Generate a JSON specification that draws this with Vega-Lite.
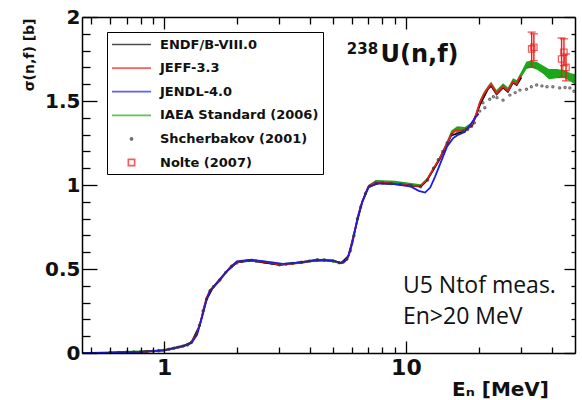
{
  "$schema": "https://vega.github.io/schema/vega-lite/v6.json",
  "width": 493,
  "height": 336,
  "autosize": "none",
  "padding": {"left": 82, "top": 17, "right": 7, "bottom": 47},
  "background": "white",
  "config": {"view": {"stroke": null}},
  "datasets": {
    "lines": [
      {"series": "JEFF-3.3", "E": 0.458, "s": 0.0}, {"series": "JEFF-3.3", "E": 0.58, "s": 0.001}, {"series": "JEFF-3.3", "E": 0.7, "s": 0.004}, {"series": "JEFF-3.3", "E": 0.8, "s": 0.007}, {"series": "JEFF-3.3", "E": 0.9, "s": 0.011}, {"series": "JEFF-3.3", "E": 1.0, "s": 0.016}, {"series": "JEFF-3.3", "E": 1.1, "s": 0.028}, {"series": "JEFF-3.3", "E": 1.2, "s": 0.042}, {"series": "JEFF-3.3", "E": 1.27, "s": 0.052}, {"series": "JEFF-3.3", "E": 1.32, "s": 0.08}, {"series": "JEFF-3.3", "E": 1.37, "s": 0.12}, {"series": "JEFF-3.3", "E": 1.42, "s": 0.19}, {"series": "JEFF-3.3", "E": 1.46, "s": 0.27}, {"series": "JEFF-3.3", "E": 1.5, "s": 0.33}, {"series": "JEFF-3.3", "E": 1.55, "s": 0.375}, {"series": "JEFF-3.3", "E": 1.62, "s": 0.4}, {"series": "JEFF-3.3", "E": 1.7, "s": 0.43}, {"series": "JEFF-3.3", "E": 1.8, "s": 0.48}, {"series": "JEFF-3.3", "E": 1.9, "s": 0.52}, {"series": "JEFF-3.3", "E": 2.0, "s": 0.54}, {"series": "JEFF-3.3", "E": 2.2, "s": 0.55}, {"series": "JEFF-3.3", "E": 2.5, "s": 0.545}, {"series": "JEFF-3.3", "E": 2.8, "s": 0.535}, {"series": "JEFF-3.3", "E": 3.0, "s": 0.525}, {"series": "JEFF-3.3", "E": 3.3, "s": 0.53}, {"series": "JEFF-3.3", "E": 3.7, "s": 0.537}, {"series": "JEFF-3.3", "E": 4.1, "s": 0.55}, {"series": "JEFF-3.3", "E": 4.6, "s": 0.555}, {"series": "JEFF-3.3", "E": 5.0, "s": 0.55}, {"series": "JEFF-3.3", "E": 5.35, "s": 0.535}, {"series": "JEFF-3.3", "E": 5.6, "s": 0.545}, {"series": "JEFF-3.3", "E": 5.8, "s": 0.58}, {"series": "JEFF-3.3", "E": 6.0, "s": 0.66}, {"series": "JEFF-3.3", "E": 6.2, "s": 0.75}, {"series": "JEFF-3.3", "E": 6.4, "s": 0.84}, {"series": "JEFF-3.3", "E": 6.6, "s": 0.9}, {"series": "JEFF-3.3", "E": 6.8, "s": 0.95}, {"series": "JEFF-3.3", "E": 7.0, "s": 0.99}, {"series": "JEFF-3.3", "E": 7.3, "s": 1.01}, {"series": "JEFF-3.3", "E": 7.8, "s": 1.015}, {"series": "JEFF-3.3", "E": 8.5, "s": 1.01}, {"series": "JEFF-3.3", "E": 9.5, "s": 1.005}, {"series": "JEFF-3.3", "E": 10.5, "s": 0.995}, {"series": "JEFF-3.3", "E": 11.5, "s": 0.995}, {"series": "JEFF-3.3", "E": 12.2, "s": 1.03}, {"series": "JEFF-3.3", "E": 12.9, "s": 1.09}, {"series": "JEFF-3.3", "E": 13.8, "s": 1.16}, {"series": "JEFF-3.3", "E": 14.7, "s": 1.24}, {"series": "JEFF-3.3", "E": 15.4, "s": 1.3}, {"series": "JEFF-3.3", "E": 16.0, "s": 1.325}, {"series": "JEFF-3.3", "E": 17.0, "s": 1.32}, {"series": "JEFF-3.3", "E": 18.0, "s": 1.335}, {"series": "JEFF-3.3", "E": 18.8, "s": 1.36}, {"series": "JEFF-3.3", "E": 19.5, "s": 1.42}, {"series": "JEFF-3.3", "E": 20.2, "s": 1.49}, {"series": "JEFF-3.3", "E": 21.0, "s": 1.54}, {"series": "JEFF-3.3", "E": 21.8, "s": 1.575}, {"series": "JEFF-3.3", "E": 22.5, "s": 1.6}, {"series": "JEFF-3.3", "E": 23.7, "s": 1.545}, {"series": "JEFF-3.3", "E": 25.2, "s": 1.585}, {"series": "JEFF-3.3", "E": 26.4, "s": 1.56}, {"series": "JEFF-3.3", "E": 27.7, "s": 1.615}, {"series": "JEFF-3.3", "E": 28.7, "s": 1.6}, {"series": "JEFF-3.3", "E": 29.6, "s": 1.645}, {"series": "JEFF-3.3", "E": 30.0, "s": 1.65},
      {"series": "ENDF/B-VIII.0", "E": 0.458, "s": 0.0}, {"series": "ENDF/B-VIII.0", "E": 0.58, "s": 0.001}, {"series": "ENDF/B-VIII.0", "E": 0.8, "s": 0.007}, {"series": "ENDF/B-VIII.0", "E": 1.0, "s": 0.017}, {"series": "ENDF/B-VIII.0", "E": 1.2, "s": 0.042}, {"series": "ENDF/B-VIII.0", "E": 1.3, "s": 0.065}, {"series": "ENDF/B-VIII.0", "E": 1.4, "s": 0.16}, {"series": "ENDF/B-VIII.0", "E": 1.5, "s": 0.32}, {"series": "ENDF/B-VIII.0", "E": 1.6, "s": 0.395}, {"series": "ENDF/B-VIII.0", "E": 1.8, "s": 0.48}, {"series": "ENDF/B-VIII.0", "E": 2.0, "s": 0.54}, {"series": "ENDF/B-VIII.0", "E": 2.3, "s": 0.55}, {"series": "ENDF/B-VIII.0", "E": 3.0, "s": 0.525}, {"series": "ENDF/B-VIII.0", "E": 4.1, "s": 0.55}, {"series": "ENDF/B-VIII.0", "E": 5.0, "s": 0.55}, {"series": "ENDF/B-VIII.0", "E": 5.4, "s": 0.535}, {"series": "ENDF/B-VIII.0", "E": 5.8, "s": 0.58}, {"series": "ENDF/B-VIII.0", "E": 6.2, "s": 0.75}, {"series": "ENDF/B-VIII.0", "E": 6.6, "s": 0.9}, {"series": "ENDF/B-VIII.0", "E": 7.0, "s": 0.99}, {"series": "ENDF/B-VIII.0", "E": 7.8, "s": 1.012}, {"series": "ENDF/B-VIII.0", "E": 9.5, "s": 1.003}, {"series": "ENDF/B-VIII.0", "E": 11.5, "s": 0.99}, {"series": "ENDF/B-VIII.0", "E": 12.2, "s": 1.025}, {"series": "ENDF/B-VIII.0", "E": 13.8, "s": 1.155}, {"series": "ENDF/B-VIII.0", "E": 15.4, "s": 1.295}, {"series": "ENDF/B-VIII.0", "E": 17.0, "s": 1.315}, {"series": "ENDF/B-VIII.0", "E": 18.8, "s": 1.355}, {"series": "ENDF/B-VIII.0", "E": 20.2, "s": 1.475}, {"series": "ENDF/B-VIII.0", "E": 21.8, "s": 1.57}, {"series": "ENDF/B-VIII.0", "E": 22.5, "s": 1.59}, {"series": "ENDF/B-VIII.0", "E": 23.7, "s": 1.54}, {"series": "ENDF/B-VIII.0", "E": 25.2, "s": 1.58}, {"series": "ENDF/B-VIII.0", "E": 26.4, "s": 1.555}, {"series": "ENDF/B-VIII.0", "E": 27.7, "s": 1.61}, {"series": "ENDF/B-VIII.0", "E": 28.7, "s": 1.595}, {"series": "ENDF/B-VIII.0", "E": 30.0, "s": 1.64},
      {"series": "JENDL-4.0", "E": 0.458, "s": 0.0}, {"series": "JENDL-4.0", "E": 0.58, "s": 0.001}, {"series": "JENDL-4.0", "E": 0.8, "s": 0.007}, {"series": "JENDL-4.0", "E": 1.0, "s": 0.016}, {"series": "JENDL-4.0", "E": 1.2, "s": 0.04}, {"series": "JENDL-4.0", "E": 1.3, "s": 0.06}, {"series": "JENDL-4.0", "E": 1.37, "s": 0.11}, {"series": "JENDL-4.0", "E": 1.44, "s": 0.22}, {"series": "JENDL-4.0", "E": 1.5, "s": 0.32}, {"series": "JENDL-4.0", "E": 1.55, "s": 0.37}, {"series": "JENDL-4.0", "E": 1.62, "s": 0.4}, {"series": "JENDL-4.0", "E": 1.8, "s": 0.48}, {"series": "JENDL-4.0", "E": 2.0, "s": 0.545}, {"series": "JENDL-4.0", "E": 2.3, "s": 0.555}, {"series": "JENDL-4.0", "E": 2.8, "s": 0.54}, {"series": "JENDL-4.0", "E": 3.1, "s": 0.53}, {"series": "JENDL-4.0", "E": 3.7, "s": 0.54}, {"series": "JENDL-4.0", "E": 4.3, "s": 0.555}, {"series": "JENDL-4.0", "E": 5.0, "s": 0.55}, {"series": "JENDL-4.0", "E": 5.4, "s": 0.535}, {"series": "JENDL-4.0", "E": 5.7, "s": 0.555}, {"series": "JENDL-4.0", "E": 6.0, "s": 0.65}, {"series": "JENDL-4.0", "E": 6.3, "s": 0.8}, {"series": "JENDL-4.0", "E": 6.6, "s": 0.9}, {"series": "JENDL-4.0", "E": 7.0, "s": 0.985}, {"series": "JENDL-4.0", "E": 7.6, "s": 1.01}, {"series": "JENDL-4.0", "E": 9.0, "s": 1.005}, {"series": "JENDL-4.0", "E": 10.5, "s": 0.99}, {"series": "JENDL-4.0", "E": 11.3, "s": 0.965}, {"series": "JENDL-4.0", "E": 12.0, "s": 0.955}, {"series": "JENDL-4.0", "E": 12.6, "s": 0.985}, {"series": "JENDL-4.0", "E": 13.2, "s": 1.05}, {"series": "JENDL-4.0", "E": 13.8, "s": 1.12}, {"series": "JENDL-4.0", "E": 14.8, "s": 1.23}, {"series": "JENDL-4.0", "E": 15.7, "s": 1.28}, {"series": "JENDL-4.0", "E": 16.5, "s": 1.3}, {"series": "JENDL-4.0", "E": 17.5, "s": 1.315}, {"series": "JENDL-4.0", "E": 18.5, "s": 1.36}, {"series": "JENDL-4.0", "E": 19.3, "s": 1.4}, {"series": "JENDL-4.0", "E": 20.0, "s": 1.425}
    ],
    "band": [
      {"series": "IAEA Standard (2006)", "E": 0.458, "lo": 0.0, "hi": 0.004}, {"series": "IAEA Standard (2006)", "E": 1.0, "lo": 0.012, "hi": 0.02}, {"series": "IAEA Standard (2006)", "E": 1.2, "lo": 0.038, "hi": 0.046}, {"series": "IAEA Standard (2006)", "E": 1.27, "lo": 0.048, "hi": 0.056}, {"series": "IAEA Standard (2006)", "E": 1.32, "lo": 0.075, "hi": 0.085}, {"series": "IAEA Standard (2006)", "E": 1.37, "lo": 0.115, "hi": 0.125}, {"series": "IAEA Standard (2006)", "E": 1.42, "lo": 0.185, "hi": 0.195}, {"series": "IAEA Standard (2006)", "E": 1.46, "lo": 0.265, "hi": 0.275}, {"series": "IAEA Standard (2006)", "E": 1.5, "lo": 0.325, "hi": 0.335}, {"series": "IAEA Standard (2006)", "E": 1.55, "lo": 0.37, "hi": 0.38}, {"series": "IAEA Standard (2006)", "E": 1.62, "lo": 0.395, "hi": 0.405}, {"series": "IAEA Standard (2006)", "E": 1.7, "lo": 0.425, "hi": 0.435}, {"series": "IAEA Standard (2006)", "E": 1.8, "lo": 0.475, "hi": 0.485}, {"series": "IAEA Standard (2006)", "E": 1.9, "lo": 0.515, "hi": 0.525}, {"series": "IAEA Standard (2006)", "E": 2.0, "lo": 0.535, "hi": 0.547}, {"series": "IAEA Standard (2006)", "E": 2.2, "lo": 0.545, "hi": 0.557}, {"series": "IAEA Standard (2006)", "E": 2.5, "lo": 0.54, "hi": 0.552}, {"series": "IAEA Standard (2006)", "E": 3.0, "lo": 0.52, "hi": 0.532}, {"series": "IAEA Standard (2006)", "E": 3.7, "lo": 0.532, "hi": 0.544}, {"series": "IAEA Standard (2006)", "E": 4.6, "lo": 0.55, "hi": 0.562}, {"series": "IAEA Standard (2006)", "E": 5.35, "lo": 0.53, "hi": 0.542}, {"series": "IAEA Standard (2006)", "E": 5.6, "lo": 0.54, "hi": 0.552}, {"series": "IAEA Standard (2006)", "E": 5.8, "lo": 0.575, "hi": 0.587}, {"series": "IAEA Standard (2006)", "E": 6.0, "lo": 0.655, "hi": 0.667}, {"series": "IAEA Standard (2006)", "E": 6.2, "lo": 0.745, "hi": 0.757}, {"series": "IAEA Standard (2006)", "E": 6.4, "lo": 0.835, "hi": 0.847}, {"series": "IAEA Standard (2006)", "E": 6.6, "lo": 0.895, "hi": 0.907}, {"series": "IAEA Standard (2006)", "E": 6.8, "lo": 0.945, "hi": 0.958}, {"series": "IAEA Standard (2006)", "E": 7.0, "lo": 0.985, "hi": 1.0}, {"series": "IAEA Standard (2006)", "E": 7.5, "lo": 1.01, "hi": 1.03}, {"series": "IAEA Standard (2006)", "E": 9.0, "lo": 1.005, "hi": 1.025}, {"series": "IAEA Standard (2006)", "E": 11.5, "lo": 0.99, "hi": 1.005}, {"series": "IAEA Standard (2006)", "E": 12.2, "lo": 1.025, "hi": 1.04}, {"series": "IAEA Standard (2006)", "E": 12.9, "lo": 1.085, "hi": 1.1}, {"series": "IAEA Standard (2006)", "E": 13.8, "lo": 1.155, "hi": 1.17}, {"series": "IAEA Standard (2006)", "E": 14.7, "lo": 1.24, "hi": 1.255}, {"series": "IAEA Standard (2006)", "E": 15.4, "lo": 1.3, "hi": 1.325}, {"series": "IAEA Standard (2006)", "E": 16.3, "lo": 1.325, "hi": 1.35}, {"series": "IAEA Standard (2006)", "E": 17.5, "lo": 1.32, "hi": 1.345}, {"series": "IAEA Standard (2006)", "E": 18.8, "lo": 1.355, "hi": 1.375}, {"series": "IAEA Standard (2006)", "E": 19.5, "lo": 1.415, "hi": 1.43}, {"series": "IAEA Standard (2006)", "E": 20.2, "lo": 1.485, "hi": 1.505}, {"series": "IAEA Standard (2006)", "E": 21.0, "lo": 1.535, "hi": 1.555}, {"series": "IAEA Standard (2006)", "E": 21.8, "lo": 1.57, "hi": 1.59}, {"series": "IAEA Standard (2006)", "E": 22.5, "lo": 1.595, "hi": 1.615}, {"series": "IAEA Standard (2006)", "E": 23.7, "lo": 1.54, "hi": 1.565}, {"series": "IAEA Standard (2006)", "E": 25.2, "lo": 1.58, "hi": 1.605}, {"series": "IAEA Standard (2006)", "E": 26.4, "lo": 1.555, "hi": 1.58}, {"series": "IAEA Standard (2006)", "E": 27.7, "lo": 1.61, "hi": 1.635}, {"series": "IAEA Standard (2006)", "E": 28.7, "lo": 1.595, "hi": 1.625}, {"series": "IAEA Standard (2006)", "E": 30.0, "lo": 1.64, "hi": 1.675}, {"series": "IAEA Standard (2006)", "E": 31.5, "lo": 1.69, "hi": 1.735}, {"series": "IAEA Standard (2006)", "E": 33.0, "lo": 1.7, "hi": 1.74}, {"series": "IAEA Standard (2006)", "E": 35.0, "lo": 1.685, "hi": 1.73}, {"series": "IAEA Standard (2006)", "E": 37.0, "lo": 1.66, "hi": 1.71}, {"series": "IAEA Standard (2006)", "E": 39.0, "lo": 1.63, "hi": 1.69}, {"series": "IAEA Standard (2006)", "E": 42.0, "lo": 1.635, "hi": 1.69}, {"series": "IAEA Standard (2006)", "E": 45.0, "lo": 1.64, "hi": 1.685}, {"series": "IAEA Standard (2006)", "E": 48.0, "lo": 1.615, "hi": 1.665}, {"series": "IAEA Standard (2006)", "E": 50.0, "lo": 1.6, "hi": 1.66}
    ],
    "pts": [
      {"series": "Shcherbakov (2001)", "E": 0.6, "s": 0.003}, {"series": "Shcherbakov (2001)", "E": 0.65, "s": 0.004}, {"series": "Shcherbakov (2001)", "E": 0.7, "s": 0.005}, {"series": "Shcherbakov (2001)", "E": 0.75, "s": 0.006}, {"series": "Shcherbakov (2001)", "E": 0.8, "s": 0.008}, {"series": "Shcherbakov (2001)", "E": 0.85, "s": 0.009}, {"series": "Shcherbakov (2001)", "E": 0.9, "s": 0.011}, {"series": "Shcherbakov (2001)", "E": 0.95, "s": 0.013}, {"series": "Shcherbakov (2001)", "E": 1.0, "s": 0.017}, {"series": "Shcherbakov (2001)", "E": 1.05, "s": 0.022}, {"series": "Shcherbakov (2001)", "E": 1.1, "s": 0.028}, {"series": "Shcherbakov (2001)", "E": 1.15, "s": 0.035}, {"series": "Shcherbakov (2001)", "E": 1.2, "s": 0.042}, {"series": "Shcherbakov (2001)", "E": 1.25, "s": 0.048}, {"series": "Shcherbakov (2001)", "E": 1.3, "s": 0.065}, {"series": "Shcherbakov (2001)", "E": 1.35, "s": 0.105}, {"series": "Shcherbakov (2001)", "E": 1.4, "s": 0.165}, {"series": "Shcherbakov (2001)", "E": 1.45, "s": 0.25}, {"series": "Shcherbakov (2001)", "E": 1.5, "s": 0.32}, {"series": "Shcherbakov (2001)", "E": 1.55, "s": 0.37}, {"series": "Shcherbakov (2001)", "E": 1.6, "s": 0.395}, {"series": "Shcherbakov (2001)", "E": 1.7, "s": 0.435}, {"series": "Shcherbakov (2001)", "E": 1.8, "s": 0.48}, {"series": "Shcherbakov (2001)", "E": 1.9, "s": 0.515}, {"series": "Shcherbakov (2001)", "E": 2.0, "s": 0.535}, {"series": "Shcherbakov (2001)", "E": 2.1, "s": 0.545}, {"series": "Shcherbakov (2001)", "E": 2.25, "s": 0.55}, {"series": "Shcherbakov (2001)", "E": 2.4, "s": 0.548}, {"series": "Shcherbakov (2001)", "E": 2.6, "s": 0.54}, {"series": "Shcherbakov (2001)", "E": 2.8, "s": 0.533}, {"series": "Shcherbakov (2001)", "E": 3.0, "s": 0.525}, {"series": "Shcherbakov (2001)", "E": 3.2, "s": 0.528}, {"series": "Shcherbakov (2001)", "E": 3.4, "s": 0.533}, {"series": "Shcherbakov (2001)", "E": 3.7, "s": 0.54}, {"series": "Shcherbakov (2001)", "E": 4.0, "s": 0.548}, {"series": "Shcherbakov (2001)", "E": 4.3, "s": 0.555}, {"series": "Shcherbakov (2001)", "E": 4.6, "s": 0.553}, {"series": "Shcherbakov (2001)", "E": 5.0, "s": 0.548}, {"series": "Shcherbakov (2001)", "E": 5.3, "s": 0.537}, {"series": "Shcherbakov (2001)", "E": 5.5, "s": 0.54}, {"series": "Shcherbakov (2001)", "E": 5.7, "s": 0.56}, {"series": "Shcherbakov (2001)", "E": 5.9, "s": 0.61}, {"series": "Shcherbakov (2001)", "E": 6.1, "s": 0.7}, {"series": "Shcherbakov (2001)", "E": 6.3, "s": 0.8}, {"series": "Shcherbakov (2001)", "E": 6.5, "s": 0.87}, {"series": "Shcherbakov (2001)", "E": 6.8, "s": 0.95}, {"series": "Shcherbakov (2001)", "E": 7.1, "s": 0.995}, {"series": "Shcherbakov (2001)", "E": 7.5, "s": 1.01}, {"series": "Shcherbakov (2001)", "E": 8.0, "s": 1.012}, {"series": "Shcherbakov (2001)", "E": 8.7, "s": 1.008}, {"series": "Shcherbakov (2001)", "E": 9.5, "s": 1.003}, {"series": "Shcherbakov (2001)", "E": 10.5, "s": 0.995}, {"series": "Shcherbakov (2001)", "E": 11.5, "s": 0.99}, {"series": "Shcherbakov (2001)", "E": 12.3, "s": 1.03}, {"series": "Shcherbakov (2001)", "E": 13.0, "s": 1.1}, {"series": "Shcherbakov (2001)", "E": 13.6, "s": 1.15}, {"series": "Shcherbakov (2001)", "E": 14.2, "s": 1.2}, {"series": "Shcherbakov (2001)", "E": 14.8, "s": 1.25}, {"series": "Shcherbakov (2001)", "E": 15.5, "s": 1.3}, {"series": "Shcherbakov (2001)", "E": 16.3, "s": 1.31}, {"series": "Shcherbakov (2001)", "E": 17.2, "s": 1.32}, {"series": "Shcherbakov (2001)", "E": 18.0, "s": 1.33}, {"series": "Shcherbakov (2001)", "E": 18.7, "s": 1.35}, {"series": "Shcherbakov (2001)", "E": 19.2, "s": 1.37}, {"series": "Shcherbakov (2001)", "E": 20.2, "s": 1.44}, {"series": "Shcherbakov (2001)", "E": 20.8, "s": 1.49}, {"series": "Shcherbakov (2001)", "E": 21.2, "s": 1.46}, {"series": "Shcherbakov (2001)", "E": 22.2, "s": 1.51}, {"series": "Shcherbakov (2001)", "E": 23.0, "s": 1.525}, {"series": "Shcherbakov (2001)", "E": 23.8, "s": 1.52}, {"series": "Shcherbakov (2001)", "E": 25.2, "s": 1.505}, {"series": "Shcherbakov (2001)", "E": 26.9, "s": 1.535}, {"series": "Shcherbakov (2001)", "E": 28.3, "s": 1.55}, {"series": "Shcherbakov (2001)", "E": 29.6, "s": 1.565}, {"series": "Shcherbakov (2001)", "E": 31.5, "s": 1.57}, {"series": "Shcherbakov (2001)", "E": 33.0, "s": 1.585}, {"series": "Shcherbakov (2001)", "E": 34.7, "s": 1.595}, {"series": "Shcherbakov (2001)", "E": 36.5, "s": 1.59}, {"series": "Shcherbakov (2001)", "E": 38.3, "s": 1.585}, {"series": "Shcherbakov (2001)", "E": 40.5, "s": 1.585}, {"series": "Shcherbakov (2001)", "E": 43.2, "s": 1.578}, {"series": "Shcherbakov (2001)", "E": 45.5, "s": 1.58}, {"series": "Shcherbakov (2001)", "E": 47.6, "s": 1.578}, {"series": "Shcherbakov (2001)", "E": 49.5, "s": 1.558},
      {"series": "Nolte (2007)", "E": 33.1, "s": 1.81}, {"series": "Nolte (2007)", "E": 33.8, "s": 1.82}, {"series": "Nolte (2007)", "E": 44.0, "s": 1.75}, {"series": "Nolte (2007)", "E": 45.0, "s": 1.79}, {"series": "Nolte (2007)", "E": 45.9, "s": 1.7}
    ],
    "nolteErr": [
      {"E": 33.1, "lo": 1.7, "hi": 1.91}, {"E": 33.8, "lo": 1.74, "hi": 1.9}, {"E": 44.0, "lo": 1.64, "hi": 1.875}, {"E": 45.0, "lo": 1.71, "hi": 1.87}, {"E": 45.9, "lo": 1.62, "hi": 1.78}
    ],
    "one": [{"k": 1}]
  },
  "resolve": {"axis": {"x": "independent", "y": "independent"}},
  "layer": [
    {
      "data": {"name": "band"},
      "mark": {"type": "area", "opacity": 1},
      "encoding": {
        "x": {"field": "E", "type": "quantitative", "scale": {"type": "log", "domain": [0.458, 50], "nice": false},
          "axis": {"orient": "bottom", "values": [1, 10], "format": "~g", "ticks": false, "grid": false, "domain": true, "domainColor": "#000", "domainWidth": 1.5,
            "labelFont": "DejaVu Sans", "labelFontWeight": "bold", "labelFontSize": 22, "labelColor": "#111", "labelPadding": 4, "labelFlush": false, "labelOverlap": false,
            "title": "Eₙ [MeV]", "titleFont": "DejaVu Sans", "titleFontWeight": "bold", "titleFontSize": 20, "titleColor": "#111", "titleX": 418, "titleY": 36, "titleAlign": "center", "titleBaseline": "middle", "zindex": 1}},
        "y": {"field": "lo", "type": "quantitative", "scale": {"domain": [0, 2], "nice": false},
          "axis": {"orient": "left", "values": [0, 0.5, 1, 1.5, 2], "format": "~g", "ticks": false, "grid": false, "domain": true, "domainColor": "#000", "domainWidth": 1.5,
            "labelFont": "DejaVu Sans", "labelFontWeight": "bold", "labelFontSize": 20, "labelColor": "#111", "labelPadding": 2, "labelFlush": false, "labelOverlap": false,
            "title": "σ(n,f) [b]", "titleFont": "DejaVu Sans", "titleFontWeight": "bold", "titleFontSize": 14, "titleColor": "#111", "titleAngle": -90, "titleX": -53, "titleY": 1, "titleAlign": "right", "titleBaseline": "middle", "zindex": 1}},
        "y2": {"field": "hi"},
        "fill": {"field": "series", "type": "nominal", "legend": null,
          "scale": {"domain": ["IAEA Standard (2006)"], "range": ["#1aa81a"]}}
      }
    },
    {
      "data": {"name": "lines"},
      "transform": [{"filter": "datum.series == 'ENDF/B-VIII.0'"}],
      "mark": {"type": "line", "strokeWidth": 1.8},
      "encoding": {
        "x": {"field": "E", "type": "quantitative", "axis": {"orient": "bottom", "values": [1, 10], "labels": false, "ticks": true, "tickSize": -12, "tickColor": "#000", "tickWidth": 1.3, "domain": false, "grid": false, "title": null, "zindex": 1}},
        "y": {"field": "s", "type": "quantitative", "axis": {"orient": "left", "values": [0, 0.5, 1, 1.5, 2], "labels": false, "ticks": true, "tickSize": -15, "tickColor": "#000", "tickWidth": 1.3, "domain": false, "grid": false, "title": null, "zindex": 1}},
        "stroke": {"field": "series", "type": "nominal", "legend": null,
          "scale": {"domain": ["ENDF/B-VIII.0", "JEFF-3.3", "JENDL-4.0"], "range": ["#000000", "#ee1c1c", "#1c1ced"]}}
      }
    },
    {
      "data": {"name": "lines"},
      "transform": [{"filter": "datum.series == 'JEFF-3.3'"}],
      "mark": {"type": "line", "strokeWidth": 1.8},
      "encoding": {
        "x": {"field": "E", "type": "quantitative", "axis": {"orient": "bottom", "values": [0.5, 0.6, 0.7, 0.8, 0.9, 2, 3, 4, 5, 6, 7, 8, 9, 20, 30, 40], "labels": false, "ticks": true, "tickSize": -6, "tickColor": "#000", "tickWidth": 1.3, "domain": false, "grid": false, "title": null, "zindex": 1}},
        "y": {"field": "s", "type": "quantitative", "axis": {"orient": "left", "values": [0.1, 0.2, 0.3, 0.4, 0.6, 0.7, 0.8, 0.9, 1.1, 1.2, 1.3, 1.4, 1.6, 1.7, 1.8, 1.9], "labels": false, "ticks": true, "tickSize": -8, "tickColor": "#000", "tickWidth": 1.3, "domain": false, "grid": false, "title": null, "zindex": 1}},
        "stroke": {"field": "series", "type": "nominal", "legend": null}
      }
    },
    {
      "data": {"name": "lines"},
      "transform": [{"filter": "datum.series == 'JENDL-4.0'"}],
      "mark": {"type": "line", "strokeWidth": 1.8},
      "encoding": {
        "x": {"field": "E", "type": "quantitative", "axis": {"orient": "top", "values": [1, 10], "labels": false, "ticks": true, "tickSize": -12, "tickColor": "#000", "tickWidth": 1.3, "domain": true, "domainColor": "#000", "domainWidth": 1.5, "grid": false, "title": null, "zindex": 1}},
        "y": {"field": "s", "type": "quantitative", "axis": {"orient": "right", "values": [0, 0.5, 1, 1.5, 2], "labels": false, "ticks": true, "tickSize": -11, "tickColor": "#000", "tickWidth": 1.3, "domain": true, "domainColor": "#000", "domainWidth": 1.5, "grid": false, "title": null, "zindex": 1}},
        "stroke": {"field": "series", "type": "nominal", "legend": null}
      }
    },
    {
      "data": {"name": "pts"},
      "mark": {"type": "point", "filled": false, "size": 225, "strokeWidth": 1.3},
      "encoding": {
        "x": {"field": "E", "type": "quantitative", "axis": {"orient": "top", "values": [0.5, 0.6, 0.7, 0.8, 0.9, 2, 3, 4, 5, 6, 7, 8, 9, 20, 30, 40], "labels": false, "ticks": true, "tickSize": -7, "tickColor": "#000", "tickWidth": 1.3, "domain": false, "grid": false, "title": null, "zindex": 1}},
        "y": {"field": "s", "type": "quantitative", "axis": {"orient": "right", "values": [0.1, 0.2, 0.3, 0.4, 0.6, 0.7, 0.8, 0.9, 1.1, 1.2, 1.3, 1.4, 1.6, 1.7, 1.8, 1.9], "labels": false, "ticks": true, "tickSize": -4, "tickColor": "#000", "tickWidth": 1.3, "domain": false, "grid": false, "title": null, "zindex": 1}},
        "color": {"field": "series", "type": "nominal",
          "scale": {"domain": ["ENDF/B-VIII.0", "JEFF-3.3", "JENDL-4.0", "IAEA Standard (2006)", "Shcherbakov (2001)", "Nolte (2007)"], "range": ["#000000", "#ee1c1c", "#1c1ced", "#1aa81a", "#333333", "#ee1c1c"]},
          "legend": {"title": null, "orient": "none", "legendX": 25, "legendY": 15, "padding": 4, "strokeColor": "#000", "fillColor": "#fff", "symbolSize": 225, "symbolStrokeWidth": 1.7, "symbolOffset": 12, "labelOffset": 20, "labelFont": "DejaVu Sans", "labelFontWeight": "bold", "labelFontSize": 13, "labelColor": "#111", "rowPadding": 7.6, "labelLimit": 300, "zindex": 2}},
        "shape": {"field": "series", "type": "nominal",
          "scale": {"domain": ["ENDF/B-VIII.0", "JEFF-3.3", "JENDL-4.0", "IAEA Standard (2006)", "Shcherbakov (2001)", "Nolte (2007)"], "range": ["M-2.6,0H2.6", "M-2.6,0H2.6", "M-2.6,0H2.6", "M-2.6,0H2.6", "M-0.14,0A0.14,0.14,0,1,1,0.14,0A0.14,0.14,0,1,1,-0.14,0Z", "M-0.42,-0.42H0.42V0.42H-0.42Z"]},
          "legend": {"title": null, "orient": "none", "legendX": 25, "legendY": 15, "padding": 4, "strokeColor": "#000", "fillColor": "#fff", "symbolSize": 225, "symbolStrokeWidth": 1.7, "symbolOffset": 12, "labelOffset": 20, "labelFont": "DejaVu Sans", "labelFontWeight": "bold", "labelFontSize": 13, "labelColor": "#111", "rowPadding": 7.6, "labelLimit": 300, "zindex": 2}}
      }
    },
    {
      "data": {"name": "nolteErr"},
      "mark": {"type": "errorbar", "ticks": {"size": 8, "thickness": 1.4}, "color": "#ee1c1c", "thickness": 1.4},
      "encoding": {
        "x": {"field": "E", "type": "quantitative", "axis": null},
        "y": {"field": "lo", "type": "quantitative", "axis": null},
        "y2": {"field": "hi"}
      }
    },
    {
      "data": {"name": "one"},
      "mark": {"type": "text", "align": "left", "baseline": "alphabetic", "font": "DejaVu Sans", "fontWeight": "bold", "fontSize": 15, "color": "#111"},
      "encoding": {
        "x": {"datum": 5.7, "type": "quantitative", "axis": null},
        "y": {"datum": 1.78, "type": "quantitative", "axis": null},
        "text": {"value": "238"}
      }
    },
    {
      "data": {"name": "one"},
      "mark": {"type": "text", "align": "left", "baseline": "alphabetic", "font": "DejaVu Sans", "fontWeight": "bold", "fontSize": 24, "color": "#111"},
      "encoding": {
        "x": {"datum": 7.85, "type": "quantitative", "axis": null},
        "y": {"datum": 1.732, "type": "quantitative", "axis": null},
        "text": {"value": "U(n,f)"}
      }
    },
    {
      "data": {"name": "one"},
      "mark": {"type": "text", "align": "left", "baseline": "alphabetic", "font": "Open Sans", "fontSize": 23, "lineHeight": 31.5, "color": "#111"},
      "encoding": {
        "x": {"datum": 9.72, "type": "quantitative", "axis": null},
        "y": {"datum": 0.359, "type": "quantitative", "axis": null},
        "text": {"value": ["U5 Ntof meas.", "En>20 MeV"]}
      }
    }
  ]
}
